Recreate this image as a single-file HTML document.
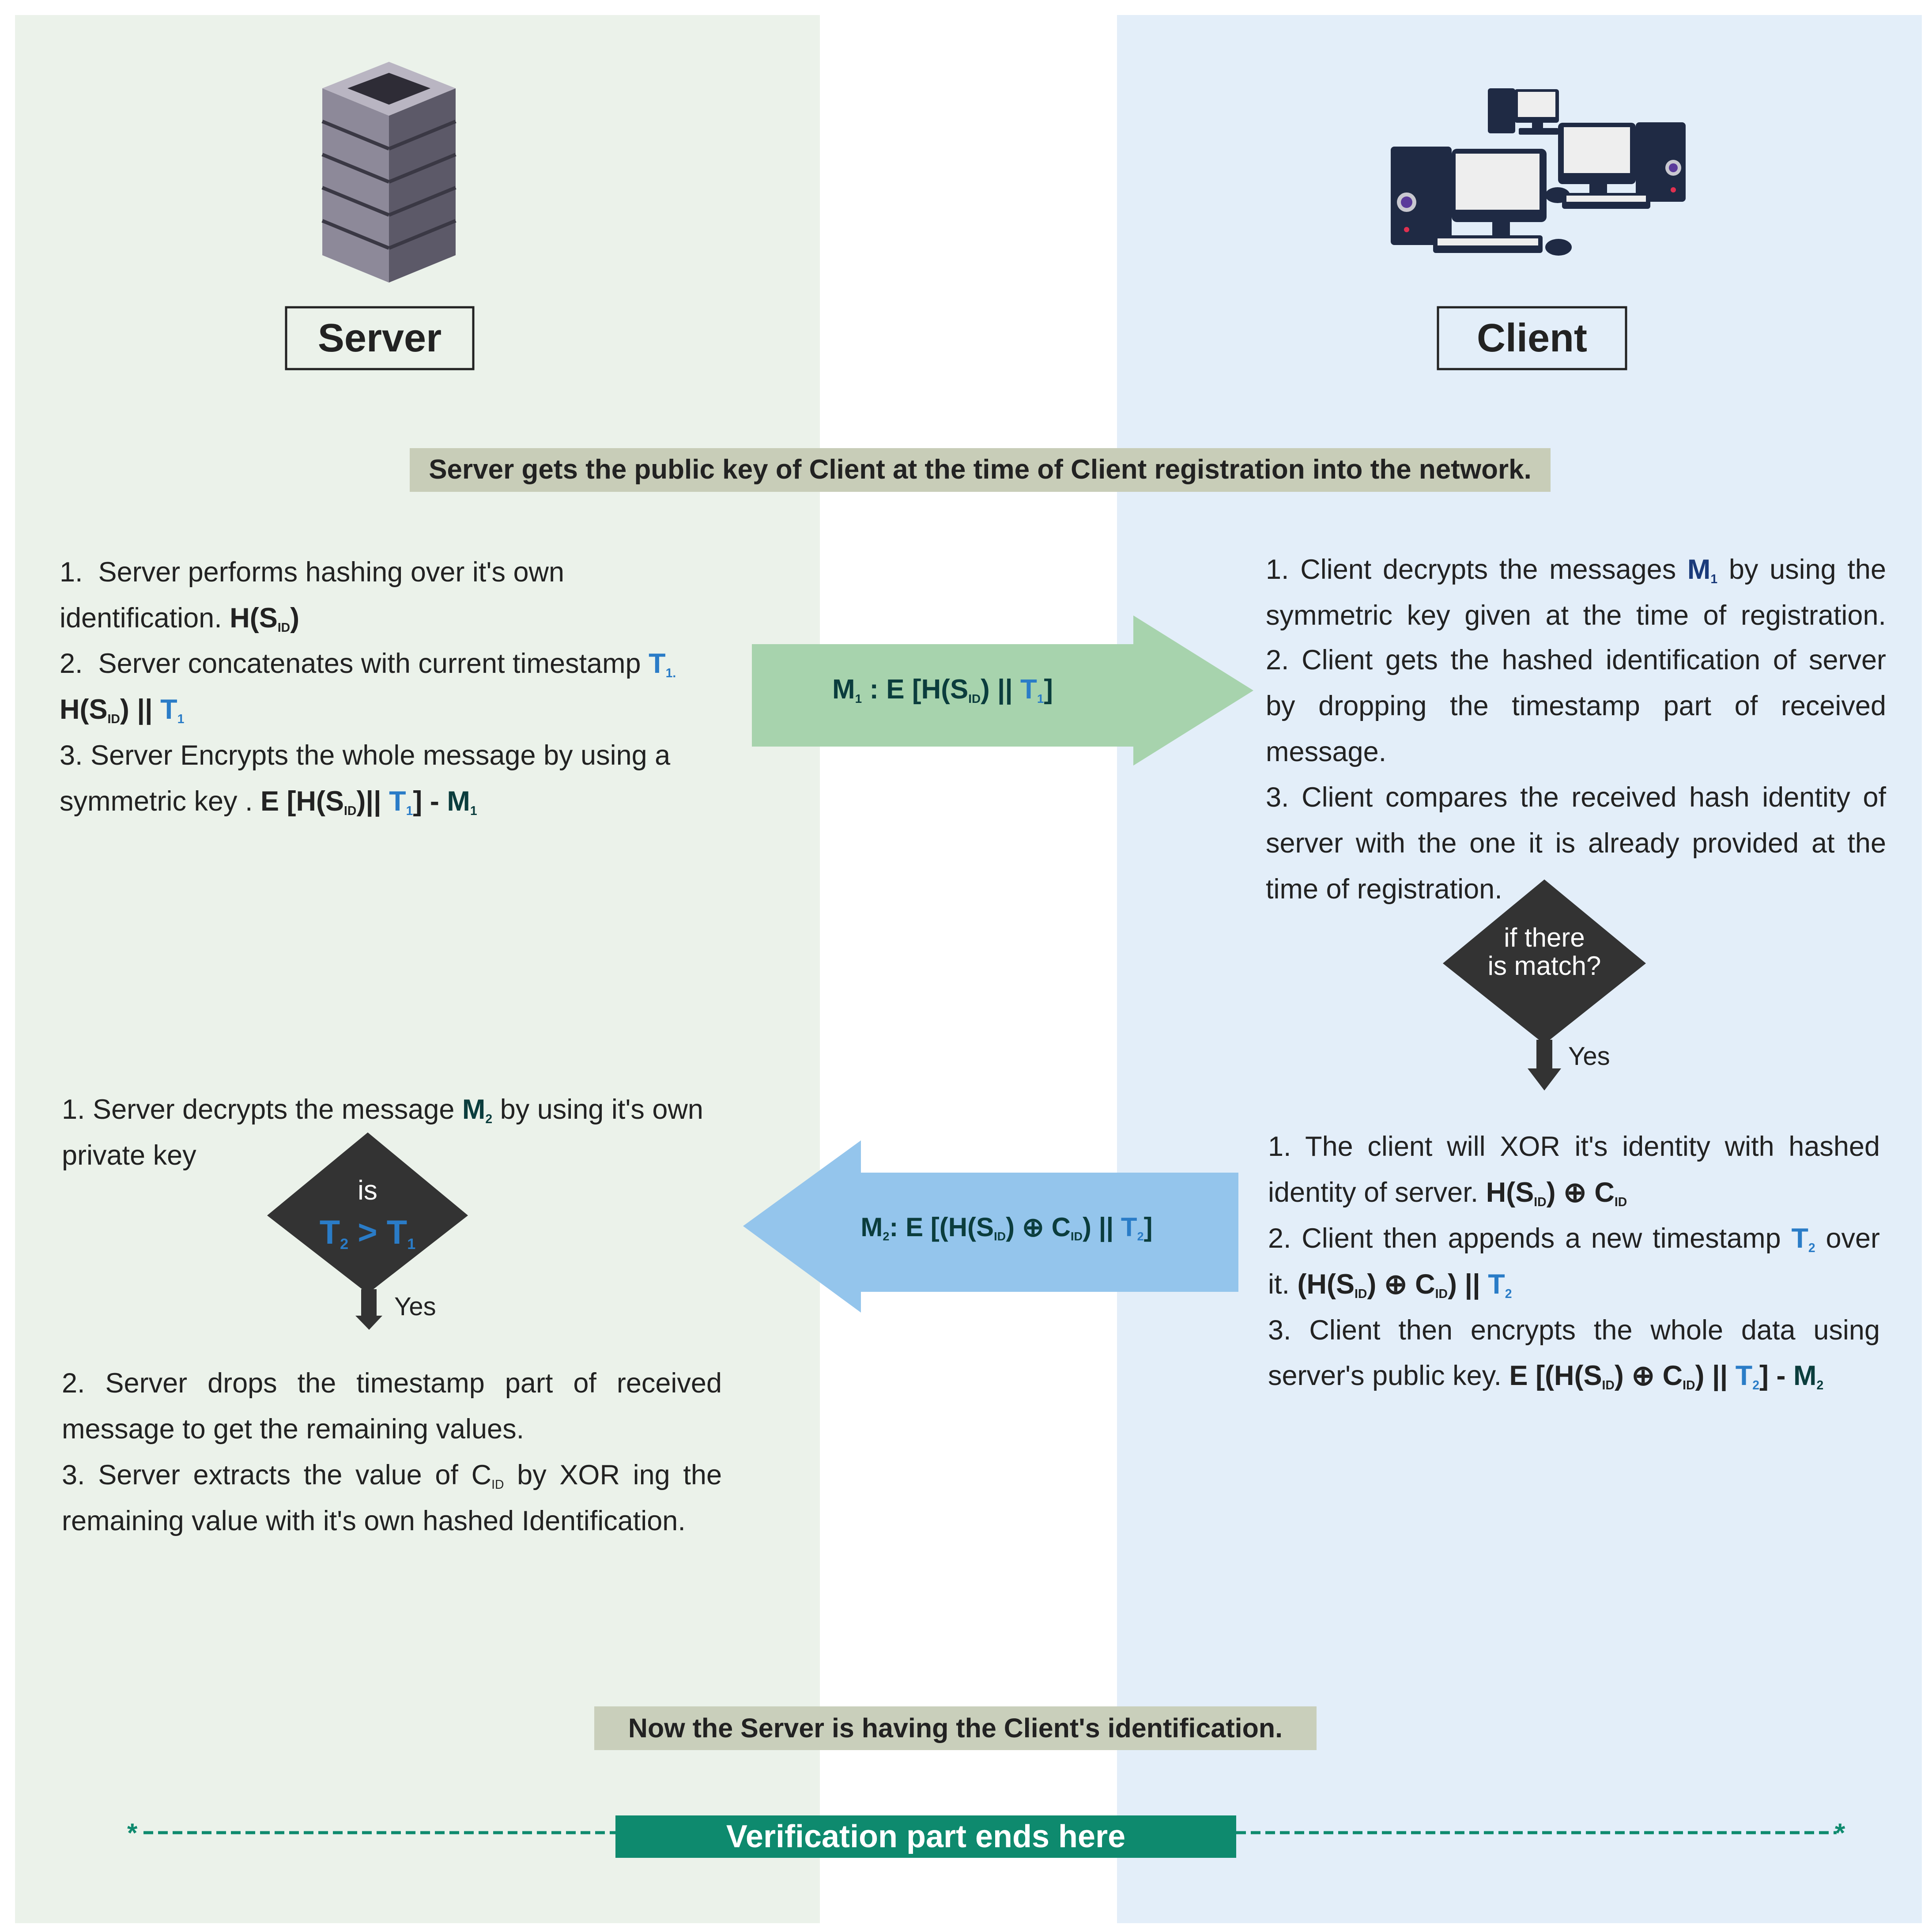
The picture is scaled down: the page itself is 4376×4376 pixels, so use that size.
<!DOCTYPE html>
<html><head><meta charset="utf-8"><style>
html,body{margin:0;padding:0;background:#fff;}
#w{position:relative;width:4376px;height:4376px;overflow:hidden;font-family:"Liberation Sans",sans-serif;color:#222;}
.l{position:absolute;height:104px;line-height:104px;font-size:63px;white-space:nowrap;}
.j{text-align:justify;text-align-last:justify;white-space:normal;}
b{font-weight:bold;}
.t{color:#2a7cc7;}
.d{color:#0b3d3d;}
sub{font-size:0.45em;vertical-align:-0.35em;}
</style></head><body><div id="w">
<svg width="4376" height="4376" style="position:absolute;left:0;top:0">
<rect x="34" y="34" width="1823" height="4322" fill="#ebf2ea"/>
<rect x="2530" y="34" width="1823" height="4322" fill="#e3eef9"/>
<!-- server icon -->
<polygon points="730,200 881,262 881,640 730,578" fill="#8d8999"/>
<polygon points="881,262 1032,200 1032,578 881,640" fill="#5c5968"/>
<g stroke="#3a3844" stroke-width="8">
<line x1="730" y1="275" x2="881" y2="337"/><line x1="881" y1="337" x2="1032" y2="275"/>
<line x1="730" y1="350" x2="881" y2="412"/><line x1="881" y1="412" x2="1032" y2="350"/>
<line x1="730" y1="425" x2="881" y2="487"/><line x1="881" y1="487" x2="1032" y2="425"/>
<line x1="730" y1="500" x2="881" y2="562"/><line x1="881" y1="562" x2="1032" y2="500"/>
</g>
<polygon points="881,140 1032,200 881,262 730,200" fill="#b9b5c2"/>
<polygon points="881,165 975,200 881,237 787,200" fill="#2e2c36"/>
<!-- client icon -->
<g fill="#1f2a44">
<rect x="3370" y="200" width="62" height="102" rx="6"/>
<rect x="3430" y="202" width="101" height="76" rx="6"/>
<rect x="3470" y="278" width="25" height="14"/>
<rect x="3440" y="290" width="90" height="15" rx="3"/>
<rect x="3529" y="278" width="176" height="139" rx="10"/>
<rect x="3705" y="277" width="113" height="180" rx="8"/>
<rect x="3600" y="417" width="40" height="22"/>
<rect x="3538" y="437" width="200" height="36" rx="6"/>
<ellipse cx="3528" cy="442" rx="28" ry="18"/>
<rect x="3150" y="332" width="138" height="223" rx="8"/>
<rect x="3288" y="337" width="215" height="166" rx="12"/>
<rect x="3380" y="503" width="40" height="32"/>
<rect x="3246" y="533" width="248" height="40" rx="6"/>
<ellipse cx="3530" cy="560" rx="30" ry="19"/>
</g>
<g fill="#eeeeee">
<rect x="3438" y="208" width="85" height="57"/>
<rect x="3542" y="288" width="150" height="104"/>
<rect x="3297" y="348" width="190" height="127"/>
<rect x="3256" y="540" width="228" height="16"/>
<rect x="3548" y="443" width="180" height="14"/>
</g>
<circle cx="3186" cy="458" r="22" fill="#c8c8d0"/><circle cx="3186" cy="458" r="13" fill="#5a3a9a"/>
<circle cx="3790" cy="380" r="18" fill="#c8c8d0"/><circle cx="3790" cy="380" r="10" fill="#5a3a9a"/>
<circle cx="3186" cy="520" r="6" fill="#e03050"/>
<circle cx="3790" cy="430" r="6" fill="#e03050"/>
<!-- server/client boxes -->
<rect x="648" y="696" width="424" height="140" fill="none" stroke="#222" stroke-width="5"/>
<rect x="3257" y="696" width="426" height="140" fill="none" stroke="#222" stroke-width="5"/>
<rect x="928" y="1015" width="2584" height="99" fill="#c8cdb8"/>
<rect x="1346" y="3865" width="1636" height="99" fill="#c9cfbb"/>
<!-- green arrow -->
<polygon points="1703,1459 2567,1459 2567,1394 2839,1564 2567,1734 2567,1691 1703,1691" fill="#a7d3ad"/>
<!-- blue arrow -->
<polygon points="1683,2777 1950,2583 1950,2656 2805,2656 2805,2926 1950,2926 1950,2973" fill="#94c5ec"/>
<!-- diamonds -->
<polygon points="3498,1992 3728,2182 3498,2365 3268,2182" fill="#333"/>
<polygon points="3480,2355 3516,2355 3516,2420 3536,2420 3498,2470 3460,2420 3480,2420" fill="#333"/>
<polygon points="833,2565 1060,2753 833,2930 605,2753" fill="#333"/>
<polygon points="818,2920 853,2920 853,2980 866,2980 836,3012 805,2980 818,2980" fill="#333"/>
<!-- dashed line -->
<line x1="325" y1="4151" x2="1394" y2="4151" stroke="#0e8a6e" stroke-width="7" stroke-dasharray="22,11"/>
<line x1="2800" y1="4151" x2="4160" y2="4151" stroke="#0e8a6e" stroke-width="7" stroke-dasharray="22,11"/>
<rect x="1394" y="4112" width="1406" height="96" fill="#0e8a6e"/>
</svg>
<div class="l" style="left:648px;top:714px;width:424px;text-align:center;font-size:90px;font-weight:bold">Server</div>
<div class="l" style="left:3257px;top:714px;width:426px;text-align:center;font-size:90px;font-weight:bold">Client</div>
<div class="l" style="left:928px;top:1012px;width:2584px;text-align:center;font-size:62px;font-weight:bold">Server gets the public key of Client at the time of Client registration into the network.</div>
<div class="l" style="left:1346px;top:3862px;width:1636px;text-align:center;font-size:61px;font-weight:bold">Now the Server is having the Client's identification.</div>
<div class="l" style="left:1394px;top:4108px;width:1406px;text-align:center;font-size:72px;font-weight:bold;color:#fff">Verification part ends here</div>
<div class="l" style="left:288px;top:4100px;font-size:60px;font-weight:bold;color:#0e8a6e">*</div>
<div class="l" style="left:4156px;top:4100px;font-size:60px;font-weight:bold;color:#0e8a6e">*</div>
<!-- arrow labels -->
<div class="l d" style="left:1703px;top:1510px;width:864px;text-align:center;font-size:62px;font-weight:bold">M<sub>1</sub> : E [H(S<sub>ID</sub>) || <span class="t">T<sub>1</sub></span>]</div>
<div class="l d" style="left:1850px;top:2728px;width:860px;text-align:center;font-size:60px;font-weight:bold">M<sub>2</sub>: E [(H(S<sub>ID</sub>) ⊕ C<sub>ID</sub>) || <span class="t">T<sub>2</sub></span>]</div>
<!-- left top -->
<div class="l" style="left:135px;top:1244px">1.&nbsp; Server performs hashing over it's own</div>
<div class="l" style="left:135px;top:1348px">identification. <b>H(S<sub>ID</sub>)</b></div>
<div class="l" style="left:135px;top:1451px">2.&nbsp; Server concatenates with current timestamp <b class="t">T<sub>1.</sub></b></div>
<div class="l" style="left:135px;top:1555px"><b>H(S<sub>ID</sub>) || <span class="t">T<sub>1</sub></span></b></div>
<div class="l" style="left:135px;top:1659px">3. Server Encrypts the whole message by using a</div>
<div class="l" style="left:135px;top:1763px">symmetric key . <b>E [H(S<sub>ID</sub>)|| <span class="t">T<sub>1</sub></span>] - <span class="d">M<sub>1</sub></span></b></div>
<!-- right top -->
<div class="l j" style="left:2867px;top:1238px;width:1405px">1. Client decrypts the messages <b style="color:#1a3a7a">M<sub>1</sub></b> by using the</div>
<div class="l j" style="left:2867px;top:1342px;width:1405px">symmetric key given at the time of registration.</div>
<div class="l j" style="left:2867px;top:1443px;width:1405px">2. Client gets the hashed identification of server</div>
<div class="l j" style="left:2867px;top:1547px;width:1405px">by dropping the timestamp part of received</div>
<div class="l" style="left:2867px;top:1651px">message.</div>
<div class="l j" style="left:2867px;top:1754px;width:1405px">3. Client compares the received hash identity of</div>
<div class="l j" style="left:2867px;top:1858px;width:1405px">server with the one it is already provided at the</div>
<div class="l" style="left:2867px;top:1962px">time of registration.</div>
<div class="l" style="left:3268px;top:2092px;width:460px;text-align:center;color:#fff;font-size:60px;line-height:64px;height:130px">if there<br>is match?</div>
<div class="l" style="left:3552px;top:2341px;font-size:58px">Yes</div>
<!-- right bottom -->
<div class="l j" style="left:2872px;top:2545px;width:1386px">1. The client will XOR it's identity with hashed</div>
<div class="l" style="left:2872px;top:2649px">identity of server. <b>H(S<sub>ID</sub>) ⊕ C<sub>ID</sub></b></div>
<div class="l j" style="left:2872px;top:2753px;width:1386px">2. Client then appends a new timestamp <b class="t">T<sub>2</sub></b> over</div>
<div class="l" style="left:2872px;top:2857px">it. <b>(H(S<sub>ID</sub>) ⊕ C<sub>ID</sub>) || <span class="t">T<sub>2</sub></span></b></div>
<div class="l j" style="left:2872px;top:2961px;width:1386px">3. Client then encrypts the whole data using</div>
<div class="l" style="left:2872px;top:3064px">server's public key. <b>E [(H(S<sub>ID</sub>) ⊕ C<sub>ID</sub>) || <span class="t">T<sub>2</sub></span>] - <span class="d">M<sub>2</sub></span></b></div>
<!-- left bottom -->
<div class="l" style="left:140px;top:2461px">1. Server decrypts the message <b class="d">M<sub>2</sub></b> by using it's own</div>
<div class="l" style="left:140px;top:2565px">private key</div>
<div class="l" style="left:605px;top:2645px;width:455px;text-align:center;color:#fff;font-size:62px">is</div>
<div class="l" style="left:605px;top:2740px;width:455px;text-align:center;color:#2a7cc7;font-size:76px;font-weight:bold">T<sub>2</sub> &gt; T<sub>1</sub></div>
<div class="l" style="left:893px;top:2908px;font-size:58px">Yes</div>
<div class="l j" style="left:140px;top:3081px;width:1495px">2. Server drops the timestamp part of received</div>
<div class="l" style="left:140px;top:3185px">message to get the remaining values.</div>
<div class="l j" style="left:140px;top:3289px;width:1495px">3. Server extracts the value of C<sub>ID</sub> by XOR ing the</div>
<div class="l" style="left:140px;top:3393px">remaining value with it's own hashed Identification.</div>
</div></body></html>
